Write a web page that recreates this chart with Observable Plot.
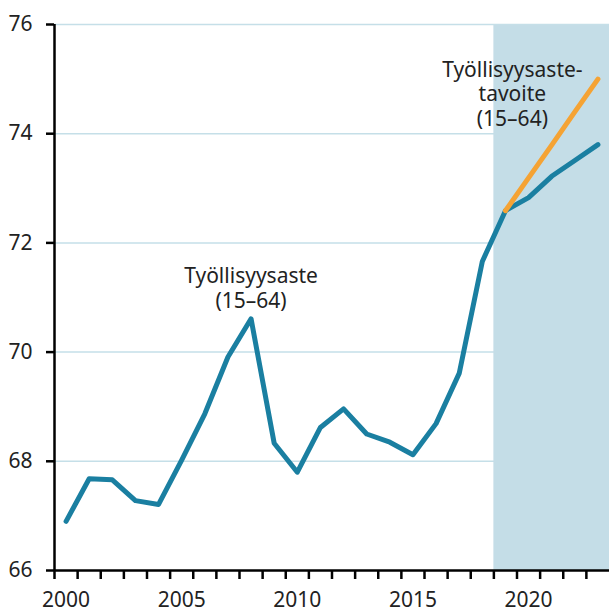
<!DOCTYPE html>
<html>
<head>
<meta charset="utf-8">
<script src="https://cdn.jsdelivr.net/npm/d3@7"></script>
<script src="https://cdn.jsdelivr.net/npm/@observablehq/plot@0.6"></script>
<style>
  html, body { margin: 0; padding: 0; background: #fff; }
</style>
</head>
<body>
<div id="chart"></div>
<script>
// Data
const years = [2000,2001,2002,2003,2004,2005,2006,2007,2008,2009,2010,2011,2012,2013,2014,2015,2016,2017,2018,2019,2020,2021,2022,2023];
const rate = [66.90,67.68,67.66,67.28,67.21,68.02,68.87,69.91,70.61,68.33,67.80,68.62,68.96,68.50,68.35,68.12,68.69,69.61,71.66,72.59,72.83,73.22,73.51,73.80];
const targetYears = [2019,2020,2021,2022,2023];
const target = [72.59,73.19,73.79,74.40,75.00];
const yTicks = [66,68,70,72,74,76];
const xLabelYears = [2000,2005,2010,2015,2020];
const shadeFrom = [2018.5];
const shadeTo = [2023.5];
const annoText = ["Työllisyysaste\n(15–64)", "Työllisyysaste-\ntavoite\n(15–64)"];
const annoYear = [2008, 2019.3];
const annoValue = [71.18, 74.74];

const blue = "#1a7fa1";
const orange = "#f5a334";
const shade = "#c4dde7";
const grid = "#c5dfe8";

const series = years.map((y, i) => ({year: y, value: rate[i]}));
const targetSeries = targetYears.map((y, i) => ({year: y, value: target[i]}));
const shadeData = shadeFrom.map((x, i) => ({x1: x, x2: shadeTo[i], y1: yTicks[0], y2: yTicks[yTicks.length - 1]}));
const annos = annoText.map((t, i) => ({text: t, year: annoYear[i], value: annoValue[i]}));
const boundaries = years.map(y => y - 0.5);
const xMin = years[0] - 0.5, xMax = years[years.length - 1] + 0.5;

const chart = Plot.plot({
  width: 609,
  height: 612,
  marginLeft: 54,
  marginRight: 0,
  marginTop: 24,
  marginBottom: 42,
  style: {fontFamily: "'Noto Sans', sans-serif", fontSize: "21px", color: "#222", background: "#fff"},
  x: {type: "linear", domain: [xMin, xMax], axis: null},
  y: {domain: [yTicks[0], yTicks[yTicks.length - 1]], axis: null},
  marks: [
    Plot.gridY(yTicks.slice(1, -1), {stroke: grid, strokeOpacity: 1, strokeWidth: 1.5}),
    Plot.rect(shadeData, {x1: "x1", x2: "x2", y1: "y1", y2: "y2", fill: shade}),
    Plot.gridY(yTicks.slice(-1), {stroke: grid, strokeOpacity: 1, strokeWidth: 1.5}),
    Plot.axisY({ticks: yTicks, tickSize: 8, tickPadding: 14, tickFormat: d => String(d), stroke: "#000", strokeWidth: 2.5, fontSize: 21, fill: "#222"}),
    Plot.axisX({ticks: boundaries, tickSize: 9, tickFormat: () => "", stroke: "#000", strokeWidth: 2.5}),
    Plot.axisX({ticks: xLabelYears, tickSize: 0, tickPadding: 22, tickFormat: d => String(d), fontSize: 21, fill: "#222"}),
    Plot.ruleY([yTicks[0]], {stroke: "#000", strokeWidth: 2.5}),
    Plot.ruleX([xMin], {stroke: "#000", strokeWidth: 2.5}),
    Plot.line(series, {x: "year", y: "value", stroke: blue, strokeWidth: 5, strokeLinejoin: "round", strokeLinecap: "round"}),
    Plot.line(targetSeries, {x: "year", y: "value", stroke: orange, strokeWidth: 5, strokeLinejoin: "round", strokeLinecap: "round"}),
    Plot.text(annos, {x: "year", y: "value", text: "text", fontSize: 21, fill: "#222", lineHeight: 1.17, textAnchor: "middle", lineAnchor: "middle"})
  ]
});
document.getElementById("chart").appendChild(chart);
</script>
</body>
</html>
